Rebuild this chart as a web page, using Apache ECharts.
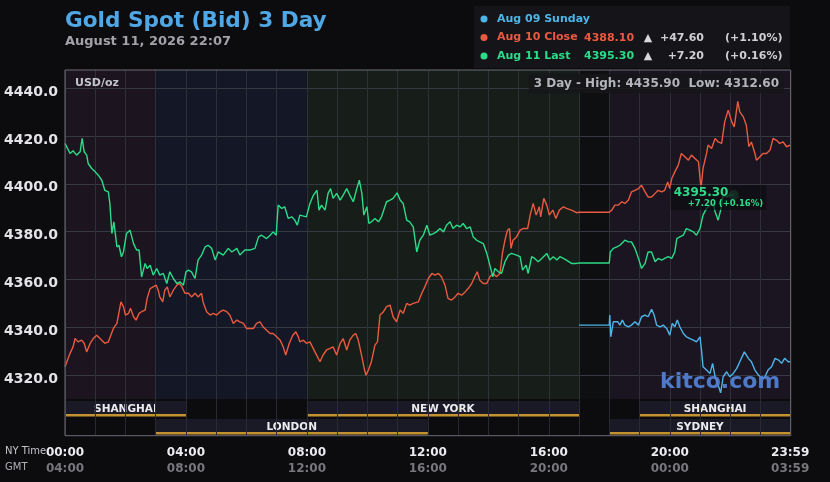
<!DOCTYPE html>
<html><head><meta charset="utf-8">
<script src="https://cdn.jsdelivr.net/npm/echarts@6/dist/echarts.min.js"></script>
<style>html,body{margin:0;padding:0;background:#0c0c0f;}#c{width:830px;height:482px;}</style>
</head><body><div id="c"></div>
<script>
// ---------------- DATA ----------------
const titleText = 'Gold Spot (Bid) 3 Day';
const dateText = 'August 11, 2026 22:07';
const yTicks = [4320, 4340, 4360, 4380, 4400, 4420, 4440];
const xTickMinutes = [0, 240, 480, 720, 960, 1200, 1439];
const nyLabels = ['00:00', '04:00', '08:00', '12:00', '16:00', '20:00', '23:59'];
const gmtLabels = ['04:00', '08:00', '12:00', '16:00', '20:00', '00:00', '03:59'];
const bandRanges = [[0, 180], [180, 480], [480, 1020], [1020, 1080], [1080, 1440]];
const sessionNames = ['SHANGHAI', 'NEW YORK', 'SHANGHAI', 'LONDON', 'SYDNEY'];
const sessionStart = [0, 480, 1140, 180, 1080];
const sessionEnd = [240, 1020, 1440, 720, 1440];
const sessionRow = [0, 0, 0, 1, 1];
const seriesNames = ['Aug 09 Sunday', 'Aug 10 Close', 'Aug 11 Last'];
const legendPrices = ['', '4388.10', '4395.30'];
const legendChanges = ['', '+47.60', '+7.20'];
const legendPercents = ['', '(+1.10%)', '(+0.16%)'];
const highLowText = '3 Day - High: 4435.90  Low: 4312.60';
const unitText = 'USD/oz';
const lastPoint = [1327, 4395.3];
const lastLabel = ['4395.30', '+7.20 (+0.16%)'];

// minutes after 00:00 NY time, price
const blue09 = [
 [1020,4340.9],[1080,4340.9],[1081,4345.1],[1083,4336.0],[1088,4342.3],[1091,4341.6],[1097,4342.3],[1101,4340.9],
 [1106,4343.0],[1111,4340.9],[1118,4340.2],[1124,4340.9],[1131,4342.3],[1138,4340.9],[1144,4344.4],[1151,4345.1],
 [1157,4344.4],[1164,4347.5],[1169,4345.1],[1174,4340.9],[1181,4340.2],[1187,4340.9],[1194,4339.5],[1200,4336.7],
 [1205,4341.6],[1210,4340.2],[1215,4343.0],[1220,4340.2],[1227,4337.4],[1233,4336.0],[1240,4335.3],[1247,4334.6],
 [1253,4333.9],[1260,4336.0],[1263,4330.5],[1266,4323.5],[1273,4322.1],[1280,4320.7],[1285,4324.9],[1290,4319.3],
 [1296,4315.8],[1301,4312.6],[1306,4319.3],[1313,4321.4],[1319,4319.3],[1326,4320.7],[1333,4322.8],[1339,4325.6],
 [1348,4329.7],[1356,4327.0],[1362,4325.6],[1369,4322.1],[1376,4320.0],[1382,4318.6],[1389,4319.3],[1395,4322.1],
 [1402,4323.5],[1409,4327.0],[1416,4326.3],[1422,4324.9],[1428,4327.0],[1435,4325.6],[1439,4325.6]
];
const red10 = [
 [0,4323.5],[3,4324.2],[10,4329.1],[16,4331.8],[20,4335.3],[26,4333.9],[33,4334.6],[38,4333.3],[43,4329.7],[50,4333.3],
 [56,4335.3],[63,4336.7],[66,4337.4],[73,4334.6],[79,4333.3],[86,4333.9],[89,4333.3],[96,4339.5],[103,4341.6],[106,4340.9],
 [111,4350.6],[116,4348.6],[120,4345.1],[126,4345.8],[130,4347.9],[136,4344.4],[141,4343.0],[147,4345.8],[152,4346.5],
 [159,4347.2],[163,4352.1],[169,4356.2],[175,4356.9],[181,4357.6],[185,4355.5],[188,4352.7],[194,4350.6],[198,4355.5],
 [203,4356.9],[208,4352.7],[215,4355.5],[222,4357.6],[227,4358.3],[232,4356.9],[238,4354.2],[245,4354.2],[251,4352.7],
 [258,4354.2],[264,4352.7],[271,4354.2],[274,4350.6],[281,4346.5],[288,4345.1],[294,4345.8],[301,4345.1],[308,4346.5],
 [314,4347.2],[321,4346.5],[327,4345.1],[334,4341.6],[341,4343.0],[347,4342.3],[354,4341.6],[360,4339.5],[367,4339.5],
 [374,4339.5],[380,4341.6],[387,4342.3],[393,4340.2],[400,4338.8],[407,4337.4],[413,4337.4],[420,4336.0],[427,4334.6],
 [433,4331.8],[438,4328.4],[445,4333.3],[452,4336.7],[458,4338.1],[463,4336.0],[466,4333.9],[473,4334.6],[479,4333.3],
 [486,4333.9],[496,4329.7],[506,4325.6],[512,4328.4],[519,4330.5],[526,4331.2],[532,4331.8],[539,4328.4],[546,4333.3],
 [552,4335.3],[559,4330.5],[565,4334.6],[572,4336.7],[577,4337.4],[582,4334.6],[589,4327.7],[593,4323.5],[597,4320.0],
 [602,4322.1],[608,4325.6],[615,4332.5],[620,4333.9],[625,4345.1],[632,4346.5],[638,4348.6],[645,4349.3],[651,4344.4],
 [658,4342.3],[665,4347.2],[671,4345.8],[678,4350.0],[684,4349.3],[691,4350.0],[701,4350.6],[708,4354.2],[714,4356.9],
 [721,4360.4],[728,4362.5],[734,4361.8],[741,4362.5],[747,4361.1],[754,4357.6],[760,4352.1],[767,4351.4],[774,4352.7],
 [780,4354.2],[787,4353.4],[794,4354.8],[800,4356.2],[807,4358.3],[813,4361.1],[818,4363.2],[823,4359.7],[830,4358.3],
 [837,4358.3],[843,4361.1],[850,4362.5],[856,4361.1],[863,4362.5],[868,4370.9],[873,4376.4],[878,4380.6],[882,4381.3],
 [885,4373.0],[889,4376.4],[896,4377.8],[903,4380.6],[909,4381.3],[918,4381.3],[923,4386.9],[929,4391.8],[935,4386.9],
 [941,4390.4],[944,4386.2],[950,4393.9],[956,4391.1],[961,4386.9],[968,4389.0],[974,4385.5],[981,4389.0],[989,4390.4],
 [995,4389.7],[1005,4389.0],[1015,4387.9],[1020,4388.1],[1080,4388.1],[1085,4389.0],[1091,4391.1],[1098,4391.1],
 [1105,4392.5],[1111,4391.8],[1118,4393.2],[1124,4396.6],[1131,4397.3],[1138,4398.0],[1144,4399.4],[1151,4396.6],
 [1157,4394.5],[1164,4394.5],[1171,4396.0],[1177,4397.3],[1184,4396.6],[1190,4397.3],[1196,4400.8],[1200,4398.0],
 [1204,4402.2],[1210,4405.0],[1217,4407.8],[1223,4412.7],[1230,4411.3],[1237,4409.9],[1243,4412.0],[1250,4410.6],
 [1257,4409.2],[1262,4398.0],[1266,4406.4],[1273,4412.7],[1276,4416.2],[1283,4414.8],[1290,4419.0],[1296,4417.5],
 [1303,4416.9],[1309,4425.9],[1316,4430.8],[1323,4425.9],[1328,4423.8],[1335,4434.5],[1339,4430.1],[1346,4428.0],
 [1352,4424.5],[1357,4415.5],[1362,4417.5],[1369,4412.7],[1372,4409.9],[1379,4411.3],[1385,4412.7],[1392,4412.7],
 [1399,4414.1],[1405,4419.0],[1412,4418.2],[1418,4416.9],[1425,4417.5],[1432,4415.5],[1439,4416.2]
];
const green11 = [
 [0,4416.9],[10,4412.7],[16,4413.8],[23,4412.0],[30,4413.4],[34,4419.0],[38,4413.4],[43,4412.0],[46,4408.5],[53,4406.4],
 [60,4405.0],[66,4403.6],[73,4401.5],[79,4397.3],[86,4396.6],[89,4391.8],[93,4379.2],[97,4384.1],[103,4373.6],[107,4374.3],
 [112,4369.5],[116,4371.5],[122,4379.2],[129,4380.6],[136,4375.0],[142,4372.3],[147,4372.3],[152,4361.1],[159,4366.7],
 [163,4364.6],[169,4366.0],[175,4361.8],[182,4364.6],[188,4361.8],[195,4362.5],[202,4358.3],[208,4363.2],[215,4360.4],
 [222,4358.3],[228,4359.0],[235,4357.6],[240,4363.2],[245,4363.9],[251,4363.2],[258,4360.4],[264,4368.1],[271,4370.2],
 [278,4373.6],[284,4374.3],[291,4373.0],[298,4368.1],[304,4371.5],[314,4370.2],[324,4373.0],[331,4371.5],[341,4373.0],
 [347,4370.2],[357,4372.3],[367,4372.3],[377,4373.0],[384,4377.8],[390,4378.5],[400,4377.1],[407,4378.5],[413,4379.9],
 [419,4378.5],[423,4391.1],[430,4389.7],[436,4390.4],[443,4385.5],[450,4386.2],[456,4384.8],[461,4382.7],[466,4386.9],
 [479,4386.2],[486,4391.8],[493,4395.3],[500,4397.3],[504,4389.0],[509,4391.1],[516,4389.0],[522,4396.0],[527,4398.0],
 [532,4393.9],[539,4396.0],[546,4393.2],[552,4395.3],[559,4398.0],[565,4395.3],[572,4392.5],[579,4398.0],[584,4401.5],
 [589,4396.0],[593,4386.9],[599,4390.4],[603,4383.4],[608,4384.1],[615,4385.5],[622,4384.1],[628,4386.2],[638,4392.5],
 [645,4393.2],[651,4393.9],[659,4396.2],[665,4393.2],[671,4391.8],[678,4384.8],[684,4384.1],[691,4382.0],[698,4371.5],
 [704,4376.4],[711,4378.5],[718,4382.7],[724,4378.5],[731,4379.2],[737,4379.9],[744,4381.3],[751,4379.9],[757,4382.7],
 [764,4384.1],[770,4381.3],[777,4382.7],[784,4382.0],[790,4383.4],[797,4381.3],[804,4382.0],[810,4377.8],[817,4376.4],
 [823,4375.7],[830,4375.0],[837,4370.9],[843,4366.0],[849,4361.1],[853,4364.6],[860,4363.2],[866,4362.5],[873,4367.4],
 [880,4370.2],[886,4370.9],[896,4370.2],[903,4369.5],[908,4363.9],[915,4366.0],[919,4362.5],[926,4369.5],[932,4368.8],
 [939,4367.4],[946,4368.8],[956,4370.9],[962,4368.1],[969,4369.5],[976,4368.1],[982,4369.5],[989,4368.8],[995,4368.1],
 [1005,4366.7],[1015,4366.7],[1020,4366.9],[1080,4366.9],[1082,4371.5],[1088,4373.0],[1095,4373.6],[1101,4374.3],
 [1111,4376.4],[1118,4375.7],[1124,4375.7],[1131,4373.0],[1138,4368.8],[1144,4364.6],[1151,4366.7],[1157,4371.5],
 [1164,4371.5],[1171,4367.4],[1177,4368.8],[1184,4368.1],[1190,4368.8],[1197,4369.5],[1204,4368.8],[1210,4371.5],
 [1214,4377.1],[1220,4377.8],[1227,4378.5],[1233,4381.3],[1240,4380.6],[1247,4379.9],[1253,4378.5],[1260,4381.3],
 [1266,4386.9],[1273,4389.7],[1280,4391.1],[1286,4391.8],[1290,4388.3],[1296,4384.8],[1301,4389.0],[1306,4395.3],
 [1313,4394.6],[1319,4395.3],[1327,4395.3]
];

// ---------------- STYLE ----------------
const FONT = 'DejaVu Sans';
const C_BLUE = '#4cb6e8', C_RED = '#ea5a40', C_GREEN = '#2bdc88';
const seriesColors = [C_BLUE, C_RED, C_GREEN];
const bandColors = ['#1c1520', '#141726', '#171d19', '#0e0f11', '#1a1520'];
const GRID_L = 65, GRID_R = 39.3;

const chart = echarts.init(document.getElementById('c'), null, {renderer: 'canvas'});

function fmtX(v) {
  const i = xTickMinutes.indexOf(v);
  if (i < 0) return '';
  return '{a|' + nyLabels[i] + '}\n{b|' + gmtLabels[i] + '}';
}

const legendRowsY = [19, 37.7, 56];
const graphics = [
  {type: 'rect', z: 0, shape: {x: 474, y: 6, width: 316, height: 62}, style: {fill: '#151519'}},
  {type: 'rect', z: 10, shape: {x: GRID_L, y: 70, width: 725.7, height: 365.7}, style: {fill: 'none', stroke: '#6c6c76', lineWidth: 1}},
  {type: 'text', z: 10, x: 75, y: 83, style: {text: unitText, fill: '#c4c4cc', font: 'bold 11px ' + FONT, textAlign: 'left', textVerticalAlign: 'middle', align: 'left', verticalAlign: 'middle'}},
  {type: 'text', z: 10, x: 784, y: 83.5, style: {text: highLowText, fill: '#b4b4bc', font: 'bold 12px ' + FONT, textAlign: 'right', textVerticalAlign: 'middle', align: 'right', verticalAlign: 'middle', backgroundColor: 'rgba(22,22,26,0.85)', padding: [4, 5, 4, 5]}},
  {type: 'text', z: 10, x: 5, y: 451, style: {text: 'NY Time', fill: '#c4c4cc', font: '10px ' + FONT, textAlign: 'left', textVerticalAlign: 'middle', align: 'left', verticalAlign: 'middle'}},
  {type: 'text', z: 10, x: 5, y: 467, style: {text: 'GMT', fill: '#b0b0b8', font: '10px ' + FONT, textAlign: 'left', textVerticalAlign: 'middle', align: 'left', verticalAlign: 'middle'}},
  {type: 'text', z: 20, x: 660, y: 382, style: {text: 'kitco.com', fill: 'rgba(82,130,215,0.92)', font: 'bold 22px ' + FONT, textAlign: 'left', textVerticalAlign: 'middle', align: 'left', verticalAlign: 'middle'}}
];
for (let i = 1; i < 3; i++) {
  const y = legendRowsY[i];
  const t = (x, text, fill, align) => ({type: 'text', z: 10, x: x, y: y, style: {text: text, fill: fill, font: 'bold 11px ' + FONT, textAlign: align, textVerticalAlign: 'middle', align: align, verticalAlign: 'middle'}});
  graphics.push(t(584, legendPrices[i], seriesColors[i], 'left'));
  graphics.push(t(648, '▲', '#d8d8dc', 'center'));
  graphics.push(t(704, legendChanges[i], '#cfcfd4', 'right'));
  graphics.push(t(725, legendPercents[i], '#cfcfd4', 'left'));
}

const sessionData = sessionNames.map((n, i) => [sessionStart[i], sessionEnd[i], sessionRow[i], n]);

const option = {
  backgroundColor: '#0c0c0f',
  animation: false,
  title: {
    text: titleText, subtext: dateText, left: 65, top: 10, padding: 0, itemGap: 3,
    textStyle: {color: '#4fa7e6', fontSize: 21.6, fontWeight: 'bold', fontFamily: FONT},
    subtextStyle: {color: '#a2a2a8', fontSize: 13, fontWeight: 'bold', fontFamily: FONT}
  },
  legend: {
    orient: 'vertical', left: 480.5, top: 12, padding: 0, itemGap: 4.5,
    itemWidth: 7, itemHeight: 7, icon: 'circle', itemStyle: {borderWidth: 0}, selectedMode: false,
    textStyle: {fontSize: 11, fontWeight: 'bold', fontFamily: FONT, lineHeight: 14, padding: [0, 0, 0, 4.5]},
    data: seriesNames.map((n, i) => ({name: n, textStyle: {color: seriesColors[i]}, itemStyle: {color: seriesColors[i]}}))
  },
  grid: [
    {left: GRID_L, right: GRID_R, top: 70, height: 329, show: false},
    {left: GRID_L, right: GRID_R, top: 399, height: 36.7, show: false}
  ],
  xAxis: [
    {gridIndex: 0, type: 'value', min: 0, max: 1440, interval: 60, z: 1,
     axisLine: {show: false}, axisTick: {show: false}, axisLabel: {show: false},
     splitLine: {show: true, lineStyle: {color: '#30303a', width: 1}}},
    {gridIndex: 1, type: 'value', min: 0, max: 1440, interval: 60, z: 1,
     axisLine: {show: false}, axisTick: {show: false},
     splitLine: {show: true, lineStyle: {color: '#2a2a32', width: 1}},
     axisLabel: {show: true, customValues: xTickMinutes, formatter: fmtX, margin: 9, showMinLabel: true, showMaxLabel: true,
       rich: {a: {color: '#ececf0', fontSize: 12, fontWeight: 'bold', fontFamily: FONT, lineHeight: 16},
              b: {color: '#77777e', fontSize: 12, fontWeight: 'bold', fontFamily: FONT, lineHeight: 16}}}}
  ],
  yAxis: [
    {gridIndex: 0, type: 'value', min: 4310, max: 4447.6, z: 1,
     axisLine: {show: false}, axisTick: {show: false, customValues: yTicks},
     axisLabel: {customValues: yTicks, formatter: v => v.toFixed(1), color: '#e4e4e8', fontSize: 14, fontWeight: 'bold', fontFamily: FONT, margin: 7, verticalAlign: 'top', lineHeight: 8},
     splitLine: {show: true, lineStyle: {color: '#383842', width: 1}}},
    {gridIndex: 1, type: 'value', min: 0, max: 2, show: false}
  ],
  graphic: {elements: graphics},
  series: [
    {type: 'custom', name: 'bands', xAxisIndex: 0, yAxisIndex: 0, z: 0, silent: true,
     data: bandRanges, encode: {x: [0, 1]},
     renderItem: (params, api) => {
       const cs = params.coordSys;
       const x0 = api.coord([api.value(0), 4400])[0];
       const x1 = api.coord([api.value(1), 4400])[0];
       return {type: 'rect', shape: {x: x0, y: cs.y, width: x1 - x0, height: cs.height}, style: {fill: bandColors[params.dataIndex]}};
     }},
    {type: 'custom', name: 'sessions', xAxisIndex: 1, yAxisIndex: 1, z: 0, silent: true,
     data: sessionData, encode: {x: [0, 1]},
     renderItem: (params, api) => {
       const cs = params.coordSys;
       const x0 = api.coord([api.value(0), 0])[0];
       const x1 = api.coord([api.value(1), 0])[0];
       const top = cs.y + 2 + api.value(2) * 18;
       return {type: 'group', children: [
         {type: 'rect', shape: {x: x0, y: top, width: x1 - x0, height: 15}, style: {fill: '#1a1a27'}},
         {type: 'rect', shape: {x: x0, y: top + 13, width: x1 - x0, height: 2.6}, style: {fill: '#c4922f'}},
         {type: 'text', x: (x0 + x1) / 2, y: top + 8, style: {text: sessionNames[params.dataIndex], fill: '#ececf0', font: 'bold 10.5px ' + FONT, align: 'center', verticalAlign: 'middle', textAlign: 'center', textVerticalAlign: 'middle'}}
       ]};
     }},
    {type: 'line', name: seriesNames[0], data: blue09, xAxisIndex: 0, yAxisIndex: 0, z: 3, showSymbol: false, symbol: 'none',
     lineStyle: {color: C_BLUE, width: 1.4}, itemStyle: {color: C_BLUE}},
    {type: 'line', name: seriesNames[1], data: red10, xAxisIndex: 0, yAxisIndex: 0, z: 3, showSymbol: false, symbol: 'none',
     lineStyle: {color: C_RED, width: 1.4}, itemStyle: {color: C_RED}},
    {type: 'line', name: seriesNames[2], data: green11, xAxisIndex: 0, yAxisIndex: 0, z: 4, showSymbol: false, symbol: 'none',
     lineStyle: {color: C_GREEN, width: 1.4}, itemStyle: {color: C_GREEN},
     markPoint: {
       symbol: 'circle', symbolSize: 10, silent: true,
       itemStyle: {color: 'rgba(40,190,110,0.55)'},
       data: [{coord: lastPoint}],
       label: {show: true, position: [-58, -5], align: 'left', verticalAlign: 'top',
         formatter: '{a|' + lastLabel[0] + '}\n{b|' + lastLabel[1] + '}',
         backgroundColor: 'rgba(14,14,18,0.72)', padding: [2, 3, 1, 3],
         rich: {a: {color: C_GREEN, fontSize: 12, fontWeight: 'bold', fontFamily: FONT, lineHeight: 12},
                b: {color: C_GREEN, fontSize: 8.5, fontWeight: 'bold', fontFamily: FONT, lineHeight: 10, padding: [0, 0, 0, 14]}}}
     }}
  ]
};
chart.setOption(option);
</script>
</body></html>
